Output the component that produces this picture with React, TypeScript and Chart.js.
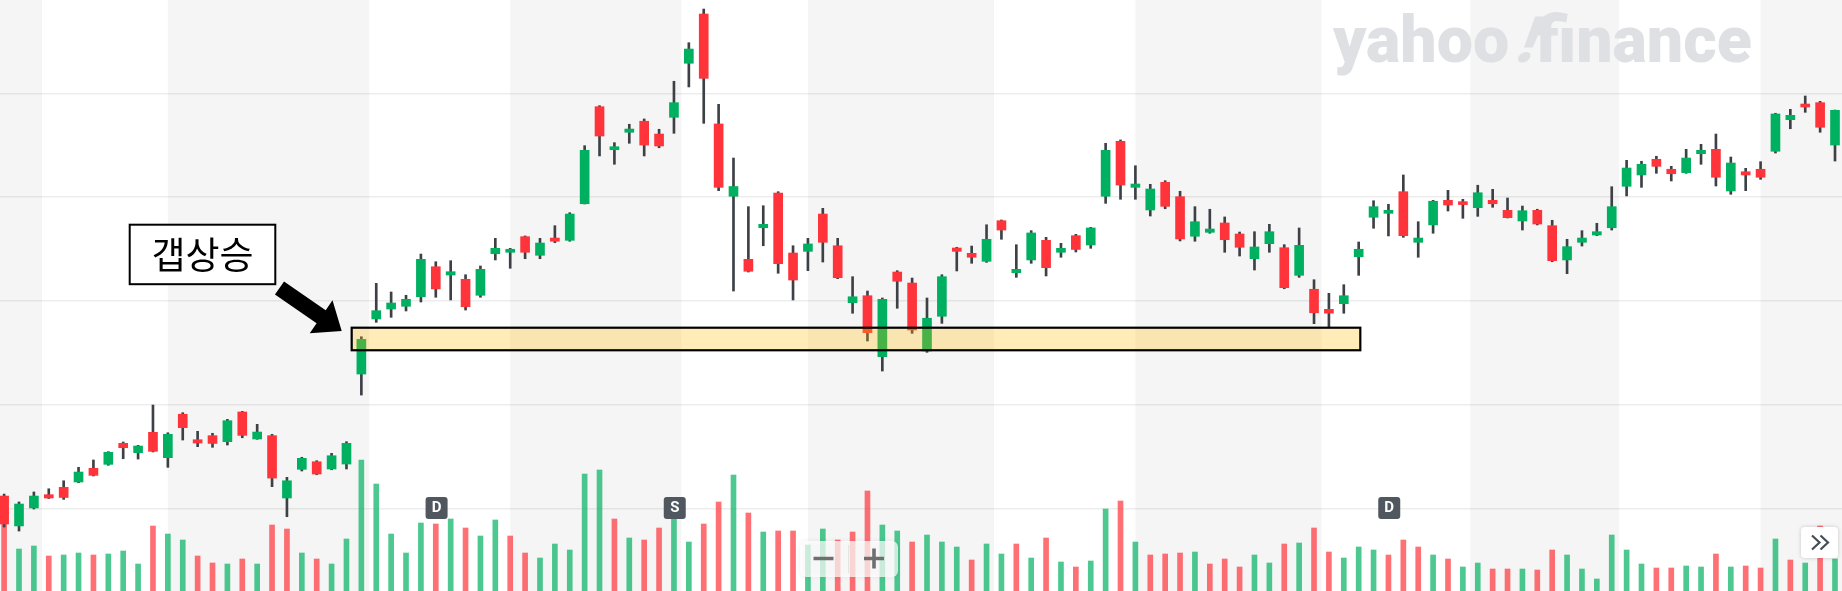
import React, { useEffect, useRef } from 'react';
import { Chart, registerables } from 'chart.js';

Chart.register(...registerables);

// ---- daily candles (price units; gridlines every 10) ----
const OPEN = [
  31.24, 28.36, 30.09, 31.37, 32.08, 32.59, 33.91, 34.29, 36.31, 35.41,
  37.37, 34.93, 39.11, 36.66, 37.05, 36.47, 39.33, 36.73, 37.05, 31.05,
  33.81, 34.54, 33.84, 34.32, 42.98, 48.28, 49.24, 49.50, 50.42, 53.31,
  52.51, 52.10, 50.56, 54.56, 54.70, 56.20, 54.41, 56.07, 55.85, 59.37,
  68.71, 64.57, 66.25, 67.31, 66.08, 67.69, 72.89, 77.63, 67.05, 60.09,
  54.02, 57.06, 60.40, 54.63, 54.79, 58.38, 55.33, 49.85, 50.52, 44.65,
  52.80, 51.74, 45.20, 48.54, 55.11, 54.60, 53.83, 57.74, 52.73, 53.96,
  55.85, 54.70, 56.30, 55.40, 60.09, 65.38, 60.95, 58.77, 61.43, 60.05,
  56.24, 56.62, 57.52, 56.46, 54.08, 55.53, 55.14, 52.48, 51.14, 49.21,
  49.75, 54.27, 58.07, 58.45, 60.53, 55.66, 57.33, 59.70, 59.57, 58.99,
  59.70, 58.74, 57.71, 58.74, 57.26, 53.96, 55.66, 56.36, 57.06, 61.05,
  62.14, 63.65, 62.69, 62.36, 64.19, 64.61, 60.60, 62.45, 62.69, 64.42,
  67.46, 68.97, 69.10, 65.02,
];
const HIGH = [
  31.43, 30.67, 31.63, 31.94, 32.71, 34.00, 34.71, 35.51, 36.44, 36.12,
  40.00, 37.33, 39.26, 37.47, 37.28, 38.62, 39.39, 38.14, 37.18, 33.04,
  34.97, 34.64, 35.35, 36.47, 46.57, 51.71, 50.88, 50.56, 54.53, 53.79,
  53.89, 52.54, 53.38, 56.04, 55.08, 56.27, 56.04, 57.26, 58.51, 64.96,
  68.81, 65.25, 67.02, 67.53, 66.54, 71.16, 74.87, 78.11, 68.94, 63.77,
  59.09, 59.18, 60.53, 55.33, 56.04, 58.93, 56.04, 52.35, 50.97, 50.30,
  52.93, 52.22, 50.30, 52.54, 55.18, 55.30, 57.35, 57.81, 55.43, 56.78,
  56.14, 55.56, 56.43, 57.10, 65.19, 65.51, 63.03, 61.24, 61.59, 60.57,
  59.09, 58.84, 58.10, 56.65, 56.68, 57.39, 55.43, 57.04, 52.06, 50.75,
  51.58, 55.69, 59.66, 59.32, 62.14, 57.64, 59.70, 60.66, 59.80, 61.15,
  60.76, 59.92, 59.15, 58.84, 57.78, 55.95, 56.78, 57.49, 61.01, 63.55,
  63.46, 63.94, 62.97, 64.61, 65.09, 66.08, 63.87, 62.78, 63.42, 68.08,
  68.46, 69.74, 69.23, 68.39,
];
const LOW = [
  28.26, 27.87, 29.99, 31.00, 30.92, 32.52, 33.17, 34.20, 34.83, 34.80,
  35.48, 34.00, 36.63, 35.99, 35.93, 36.15, 36.85, 36.70, 32.14, 29.25,
  33.65, 33.29, 33.77, 33.84, 40.96, 47.96, 48.44, 49.05, 49.91, 50.37,
  50.11, 49.14, 50.37, 53.96, 53.16, 54.08, 54.08, 55.62, 55.76, 59.35,
  63.97, 63.17, 65.19, 63.97, 64.76, 66.15, 70.61, 67.11, 60.63, 50.97,
  52.80, 55.33, 52.68, 50.11, 52.93, 53.76, 52.16, 48.83, 46.16, 43.27,
  49.31, 46.90, 45.07, 47.86, 52.90, 53.64, 53.73, 55.95, 52.29, 53.64,
  52.42, 54.22, 54.73, 55.08, 59.41, 59.80, 59.80, 58.19, 58.89, 55.79,
  55.76, 56.53, 54.70, 54.34, 52.99, 54.70, 51.19, 52.29, 47.83, 47.51,
  48.83, 52.48, 57.01, 56.27, 56.14, 54.22, 56.53, 58.67, 57.97, 58.16,
  59.03, 58.00, 56.84, 57.33, 53.79, 52.64, 55.30, 56.30, 56.84, 60.12,
  60.95, 62.30, 61.56, 62.30, 63.17, 61.08, 60.28, 60.63, 61.72, 64.25,
  66.59, 68.17, 66.25, 63.48,
];
const CLOSE = [
  28.55, 30.47, 31.24, 31.05, 31.10, 33.55, 33.23, 35.45, 35.89, 36.05,
  35.54, 37.18, 37.82, 36.34, 36.30, 38.49, 37.08, 37.40, 32.97, 32.71,
  34.87, 33.36, 35.12, 36.31, 46.32, 49.08, 49.82, 50.17, 54.02, 51.17,
  52.83, 49.46, 53.06, 55.08, 54.99, 54.70, 55.59, 55.76, 58.38, 64.51,
  65.89, 64.86, 66.56, 65.02, 64.93, 69.10, 74.26, 71.44, 60.95, 61.03,
  52.87, 57.39, 53.60, 52.03, 55.50, 55.66, 52.25, 50.42, 46.96, 50.17,
  51.91, 47.22, 48.35, 52.35, 54.79, 54.22, 55.95, 56.84, 53.06, 56.56,
  53.22, 55.08, 54.97, 57.04, 64.51, 61.17, 61.27, 60.79, 59.12, 55.98,
  57.64, 56.94, 55.91, 55.18, 55.21, 56.68, 51.29, 55.37, 48.88, 48.84,
  50.52, 54.99, 59.09, 58.74, 56.30, 56.07, 59.61, 59.25, 59.29, 60.43,
  59.37, 58.03, 58.70, 57.42, 53.89, 55.24, 56.07, 56.68, 59.09, 62.81,
  63.17, 62.97, 62.26, 63.77, 64.51, 61.92, 63.29, 62.14, 61.92, 68.01,
  67.88, 68.68, 66.73, 68.36,
];
const VOLUME = [
  6.9, 4.2, 4.5, 3.5, 3.6, 3.8, 3.6, 3.7, 4.0, 2.7,
  6.5, 5.7, 5.1, 3.5, 2.8, 2.7, 3.2, 2.7, 6.6, 6.2,
  3.8, 3.2, 2.7, 5.2, 13.1, 10.7, 5.7, 3.8, 6.8, 6.7,
  7.2, 6.3, 5.5, 7.1, 5.5, 3.8, 3.3, 4.7, 4.1, 11.7,
  12.1, 7.2, 5.3, 5.1, 6.3, 7.5, 4.9, 6.7, 8.9, 11.6,
  7.8, 5.9, 6.0, 6.0, 4.6, 6.2, 5.1, 5.9, 10.0, 6.6,
  6.0, 4.9, 5.6, 4.9, 4.4, 3.1, 4.7, 3.7, 4.7, 3.3,
  5.3, 2.9, 2.4, 3.0, 8.2, 9.0, 4.9, 3.6, 3.7, 3.8,
  3.9, 2.7, 3.2, 2.4, 3.6, 2.8, 4.7, 4.8, 6.3, 3.9,
  3.3, 4.4, 4.1, 3.6, 5.1, 4.4, 3.6, 3.2, 2.4, 2.8,
  2.2, 2.2, 2.2, 2.1, 4.1, 3.6, 2.2, 1.2, 5.6, 4.1,
  2.7, 2.3, 2.3, 2.5, 2.4, 3.7, 2.4, 2.5, 2.3, 5.2,
  3.1, 2.8, 6.5, 3.2,
];

// horizontal gridline price levels
const PRICE_GRID = [30, 40, 50, 60, 70];
// shaded period bands, in candle-index units
const SHADED_BANDS: [number, number][] = [
  [-1, 2.55], [11, 24.53], [34, 45.5], [54, 66.5], [76, 88.5], [98.5, 108.5], [118, 125],
];
// event markers (candle index, label)
const EVENT_INDEX = [29, 45, 93];
const EVENT_LABEL = ['D', 'S', 'D'];
// highlighted support zone (candle index range, price range)
const ZONE_FROM = 23.35;
const ZONE_TO = 91.11;
const ZONE_LOW = 45.27;
const ZONE_HIGH = 47.44;
const CALLOUT_TEXT = '갭상승';
const WATERMARK_PARTS = ['yahoo', '!', 'finance'];

const GREEN = '#00b061';
const RED = '#ff333a';
const WICK = '#3d4146';
const VOL_GREEN = 'rgba(0,176,97,0.7)';
const VOL_RED = 'rgba(255,51,58,0.7)';

const backgroundPlugin = {
  id: 'bgBands',
  beforeDraw(chart: any) {
    const { ctx, chartArea: a, scales } = chart;
    const x = scales.x;
    ctx.save();
    ctx.fillStyle = '#ffffff';
    ctx.fillRect(0, 0, chart.width, chart.height);
    ctx.fillStyle = '#f5f5f5';
    for (const [s, e] of SHADED_BANDS) {
      const x0 = Math.max(a.left, x.getPixelForValue(s));
      const x1 = Math.min(a.right, x.getPixelForValue(e));
      if (x1 > x0) ctx.fillRect(x0, a.top, x1 - x0, a.bottom - a.top);
    }
    // watermark (yahoo ⁄ finance with slanted exclamation)
    ctx.font = '900 64px Roboto, "DejaVu Sans", sans-serif';
    ctx.textBaseline = 'alphabetic';
    ctx.textAlign = 'left';
    const widths = WATERMARK_PARTS.map((t) => ctx.measureText(t).width);
    const gap = 4;
    const total = widths[0] + widths[1] + widths[2] + gap * 2;
    ctx.translate(1333, 62);
    ctx.scale(419 / total, 1);
    ctx.fillStyle = '#dfe0e4';
    ctx.fillText(WATERMARK_PARTS[0], 0, 0);
    ctx.save();
    ctx.translate(widths[0] + gap, 0);
    ctx.transform(1, 0, -0.4, 1, 0, 0);
    ctx.fillText(WATERMARK_PARTS[1], 0, 0);
    ctx.restore();
    ctx.fillText(WATERMARK_PARTS[2], widths[0] + widths[1] + gap * 2, 0);
    ctx.restore();
  },
};

const overlayPlugin = {
  id: 'overlays',
  afterDraw(chart: any) {
    const { ctx, scales } = chart;
    const x = scales.x;
    const y = scales.y;
    ctx.save();

    // support zone
    const zx0 = x.getPixelForValue(ZONE_FROM);
    const zx1 = x.getPixelForValue(ZONE_TO);
    const zy0 = y.getPixelForValue(ZONE_HIGH);
    const zy1 = y.getPixelForValue(ZONE_LOW);
    ctx.fillStyle = 'rgba(255,187,0,0.28)';
    ctx.fillRect(zx0, zy0, zx1 - zx0, zy1 - zy0);
    ctx.lineWidth = 2.2;
    ctx.strokeStyle = '#000000';
    ctx.strokeRect(zx0, zy0, zx1 - zx0, zy1 - zy0);

    // event markers
    EVENT_INDEX.forEach((idx, k) => {
      const cx = x.getPixelForValue(idx) + 0.8;
      ctx.fillStyle = '#50575e';
      ctx.beginPath();
      ctx.roundRect(cx - 11, 497, 22, 22, 3);
      ctx.fill();
      ctx.fillStyle = '#ffffff';
      ctx.font = 'bold 15px Roboto, "DejaVu Sans", sans-serif';
      ctx.textAlign = 'center';
      ctx.textBaseline = 'middle';
      ctx.fillText(EVENT_LABEL[k], cx, 508.5);
    });

    // callout box
    ctx.fillStyle = '#ffffff';
    ctx.fillRect(129.7, 224.7, 145.6, 59.5);
    ctx.lineWidth = 2;
    ctx.strokeStyle = '#000000';
    ctx.strokeRect(129.7, 224.7, 145.6, 59.5);
    ctx.fillStyle = '#000000';
    ctx.font = '37px "Noto Sans CJK KR", sans-serif';
    ctx.textAlign = 'center';
    ctx.textBaseline = 'middle';
    ctx.fillText(CALLOUT_TEXT, 202.5, 255);

    // arrow
    const tx = 279.5, ty = 288, px = 341.7, py = 331;
    const len = Math.hypot(px - tx, py - ty);
    const dx = (px - tx) / len, dy = (py - ty) / len;
    const nx = -dy, ny = dx;
    const shaft = 8, head = 20, headLen = 25;
    const bx = px - dx * headLen, by = py - dy * headLen;
    ctx.fillStyle = '#000000';
    ctx.beginPath();
    ctx.moveTo(tx + nx * shaft, ty + ny * shaft);
    ctx.lineTo(bx + nx * shaft, by + ny * shaft);
    ctx.lineTo(bx + nx * head, by + ny * head);
    ctx.lineTo(px, py);
    ctx.lineTo(bx - nx * head, by - ny * head);
    ctx.lineTo(bx - nx * shaft, by - ny * shaft);
    ctx.lineTo(tx - nx * shaft, ty - ny * shaft);
    ctx.closePath();
    ctx.fill();

    // zoom controls
    ctx.save();
    ctx.shadowColor = 'rgba(0,0,0,0.10)';
    ctx.shadowBlur = 5;
    ctx.fillStyle = 'rgba(255,255,255,0.72)';
    ctx.beginPath();
    ctx.roundRect(800, 541, 98, 36, 6);
    ctx.fill();
    ctx.restore();
    ctx.strokeStyle = 'rgba(0,0,0,0.07)';
    ctx.lineWidth = 1;
    ctx.beginPath();
    ctx.moveTo(848.5, 545);
    ctx.lineTo(848.5, 573);
    ctx.stroke();
    ctx.strokeStyle = '#6f6f6f';
    ctx.lineWidth = 3.6;
    ctx.lineCap = 'butt';
    ctx.beginPath();
    ctx.moveTo(813.5, 558.5);
    ctx.lineTo(833.5, 558.5);
    ctx.moveTo(864, 558.5);
    ctx.lineTo(884, 558.5);
    ctx.moveTo(874, 548.5);
    ctx.lineTo(874, 568.5);
    ctx.stroke();

    // scroll-to-latest button
    ctx.save();
    ctx.shadowColor = 'rgba(0,0,0,0.18)';
    ctx.shadowBlur = 4;
    ctx.fillStyle = '#ffffff';
    ctx.beginPath();
    ctx.roundRect(1801, 527, 37, 31, 4);
    ctx.fill();
    ctx.restore();
    ctx.strokeStyle = '#464d55';
    ctx.lineWidth = 2.2;
    ctx.lineJoin = 'miter';
    ctx.beginPath();
    ctx.moveTo(1812, 535.5);
    ctx.lineTo(1819.5, 542.5);
    ctx.lineTo(1812, 549.5);
    ctx.moveTo(1820.5, 535.5);
    ctx.lineTo(1828, 542.5);
    ctx.lineTo(1820.5, 549.5);
    ctx.stroke();

    ctx.restore();
  },
};

export default function App() {
  const ref = useRef<HTMLCanvasElement>(null);

  useEffect(() => {
    document.body.style.margin = '0';
    const idx = CLOSE.map((_, i) => i);
    const up = CLOSE.map((c, i) => c >= OPEN[i]);
    const volUp = CLOSE.map((c, i) => c >= (i > 0 ? CLOSE[i - 1] : OPEN[i]));

    const chart = new Chart(ref.current as HTMLCanvasElement, {
      type: 'bar',
      data: {
        datasets: [
          {
            label: 'body',
            data: idx.map((i) => ({ x: i, y: [OPEN[i], CLOSE[i]] })) as any,
            backgroundColor: up.map((u) => (u ? GREEN : RED)),
            barThickness: 9,
            grouped: false,
            order: 1,
            yAxisID: 'y',
            borderWidth: 0,
          },
          {
            label: 'wick',
            data: idx.map((i) => ({ x: i, y: [LOW[i], HIGH[i]] })) as any,
            backgroundColor: WICK,
            barThickness: 2,
            grouped: false,
            order: 2,
            yAxisID: 'y',
            borderWidth: 0,
          },
          {
            label: 'volume',
            data: idx.map((i) => ({ x: i, y: VOLUME[i] })) as any,
            backgroundColor: volUp.map((u) => (u ? VOL_GREEN : VOL_RED)),
            barThickness: 5,
            grouped: false,
            order: 3,
            yAxisID: 'vol',
            borderWidth: 0,
          },
        ],
      },
      options: {
        animation: false,
        responsive: false,
        devicePixelRatio: 1,
        events: [],
        layout: { padding: 0 },
        plugins: { legend: { display: false }, tooltip: { enabled: false } },
        scales: {
          x: {
            type: 'linear',
            min: -0.2765,
            max: 123.47,
            offset: false,
            display: false,
          },
          y: {
            type: 'linear',
            position: 'left',
            min: 22.1,
            max: 78.98,
            afterBuildTicks: (s: any) => {
              s.ticks = PRICE_GRID.map((v) => ({ value: v }));
            },
            grid: { color: 'rgba(0,0,0,0.07)', lineWidth: 1.5, drawTicks: false },
            border: { display: false },
            ticks: { display: false },
          },
          vol: {
            type: 'linear',
            position: 'right',
            min: 0,
            max: 59.1,
            display: false,
          },
        },
      } as any,
      plugins: [backgroundPlugin, overlayPlugin],
    });
    return () => chart.destroy();
  }, []);

  return (
    <div style={{ position: 'fixed', left: 0, top: 0, width: 1842, height: 591, overflow: 'hidden' }}>
      <canvas ref={ref} width={1842} height={591} style={{ display: 'block' }} />
    </div>
  );
}
